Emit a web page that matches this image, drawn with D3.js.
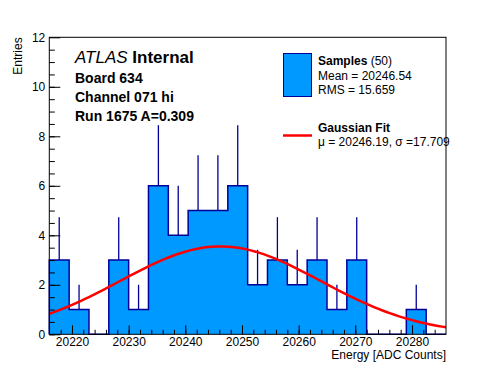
<!DOCTYPE html>
<html>
<head>
<meta charset="utf-8">
<script src="https://cdn.jsdelivr.net/npm/d3@7"></script>
<style>
  body { margin: 0; background: #fff; }
  text { font-family: "Liberation Sans", Arial, Helvetica, sans-serif; }
</style>
</head>
<body>
<svg id="chart" width="496" height="372"></svg>
<script>
// histogram: 20 bins of 3.5 ADC counts starting at 20216
const binStart = 20216;
const binWidth = 3.5;
const counts = [3, 1, 0, 3, 1, 6, 4, 5, 5, 6, 2, 3, 2, 3, 1, 3, 0, 0, 1, 0];

const xTicks = [20220, 20230, 20240, 20250, 20260, 20270, 20280];
const yTicks = [0, 2, 4, 6, 8, 10, 12];

// gaussian fit parameters
const fitMean = 20246.19;
const fitSigma = 17.709;
const fitAmp = 3.55;

const infoLines = ["Board 634", "Channel 071 hi", "Run 1675 A=0.309"];

const svg = d3.select("#chart");
const padL = 49.3, padR = 446, padT = 37.3, padB = 334.3;
const fill = "#0099ff";
const dark = "#000099";

const x = d3.scaleLinear().domain([20216, 20286]).range([padL, padR]);
const y = d3.scaleLinear().domain([0, 12]).range([padB, padT]);

const bins = counts.map((n, i) => ({
  lo: binStart + i * binWidth,
  hi: binStart + (i + 1) * binWidth,
  n: n,
}));

// error bars (lower half ends up hidden by the fill)
svg.append("g")
  .selectAll("line")
  .data(bins.filter(d => d.n > 0))
  .enter()
  .append("line")
  .attr("x1", d => x((d.lo + d.hi) / 2))
  .attr("x2", d => x((d.lo + d.hi) / 2))
  .attr("y1", d => y(d.n - Math.sqrt(d.n)))
  .attr("y2", d => y(d.n + Math.sqrt(d.n)))
  .attr("stroke", dark)
  .attr("stroke-width", 1.3);

// filled step histogram
const pts = [[x(bins[0].lo), y(0)]];
bins.forEach(d => {
  pts.push([x(d.lo), y(d.n)]);
  pts.push([x(d.hi), y(d.n)]);
});
pts.push([x(bins[bins.length - 1].hi), y(0)]);

svg.append("path")
  .attr("d", d3.line()(pts))
  .attr("fill", fill)
  .attr("stroke", dark)
  .attr("stroke-width", 1.5);

// gaussian fit curve
const curve = d3.range(101).map(i => {
  const e = 20216 + i * 0.7;
  return [e, fitAmp * Math.exp(-((e - fitMean) ** 2) / (2 * fitSigma * fitSigma))];
});
svg.append("path")
  .attr("d", d3.line().x(d => x(d[0])).y(d => y(d[1]))(curve))
  .attr("fill", "none")
  .attr("stroke", "#ff0000")
  .attr("stroke-width", 2.5);

// frame
svg.append("rect")
  .attr("x", padL).attr("y", padT)
  .attr("width", padR - padL).attr("height", padB - padT)
  .attr("fill", "none").attr("stroke", "#000").attr("stroke-width", 1);

// axes
const xMajor = d3.axisBottom(x).tickValues(xTicks).tickSize(-9).tickPadding(3)
  .tickFormat(d3.format("d"));
const xMinor = d3.axisBottom(x).tickValues(d3.range(20218, 20286, 2)).tickSize(-4.5)
  .tickFormat("");
const yMajor = d3.axisLeft(y).tickValues(yTicks).tickSize(-11).tickPadding(4)
  .tickFormat(d3.format("d"));
const yMinor = d3.axisLeft(y).tickValues(d3.range(0, 12, 0.5)).tickSize(-5.5)
  .tickFormat("");

[xMinor, xMajor].forEach(a => {
  svg.append("g").attr("transform", `translate(0,${padB})`).call(a)
    .call(g => g.select(".domain").remove());
});
[yMinor, yMajor].forEach(a => {
  svg.append("g").attr("transform", `translate(${padL},0)`).call(a)
    .call(g => g.select(".domain").remove());
});
svg.selectAll(".tick text").attr("font-size", 12).attr("fill", "#000")
  .style("font-family", '"Liberation Sans", Arial, sans-serif');
svg.selectAll(".tick line").attr("stroke", "#000");

// axis titles
svg.append("text")
  .attr("x", padR).attr("y", 359)
  .attr("text-anchor", "end").attr("font-size", 12)
  .text("Energy [ADC Counts]");
svg.append("text")
  .attr("transform", `translate(22,${padT}) rotate(-90)`)
  .attr("text-anchor", "end").attr("font-size", 12)
  .text("Entries");

// ATLAS label
const atlas = svg.append("text").attr("x", 75).attr("y", 63).attr("font-size", 17);
atlas.append("tspan").attr("font-style", "italic").text("ATLAS");
atlas.append("tspan").attr("font-weight", "bold").text(" Internal");

svg.selectAll(".info")
  .data(infoLines)
  .enter()
  .append("text")
  .attr("class", "info")
  .attr("x", 75)
  .attr("y", (d, i) => 83 + i * 19)
  .attr("font-size", 14)
  .attr("font-weight", "bold")
  .text(d => d);

// legend
svg.append("rect")
  .attr("x", 283.5).attr("y", 53.5).attr("width", 28).attr("height", 43)
  .attr("fill", fill).attr("stroke", dark).attr("stroke-width", 1);
const s = svg.append("text").attr("x", 318).attr("y", 65).attr("font-size", 12);
s.append("tspan").attr("font-weight", "bold").text("Samples");
s.append("tspan").text(" (50)");
svg.append("text").attr("x", 318).attr("y", 80).attr("font-size", 12).text("Mean = 20246.54");
svg.append("text").attr("x", 318).attr("y", 94).attr("font-size", 12).text("RMS = 15.659");

svg.append("line")
  .attr("x1", 283).attr("x2", 312).attr("y1", 135.5).attr("y2", 135.5)
  .attr("stroke", "#ff0000").attr("stroke-width", 2.5);
svg.append("text").attr("x", 318).attr("y", 132).attr("font-size", 12)
  .attr("font-weight", "bold").text("Gaussian Fit");
svg.append("text").attr("x", 318).attr("y", 146).attr("font-size", 12)
  .text("\u03bc = 20246.19, \u03c3 =17.709");
</script>
</body>
</html>
